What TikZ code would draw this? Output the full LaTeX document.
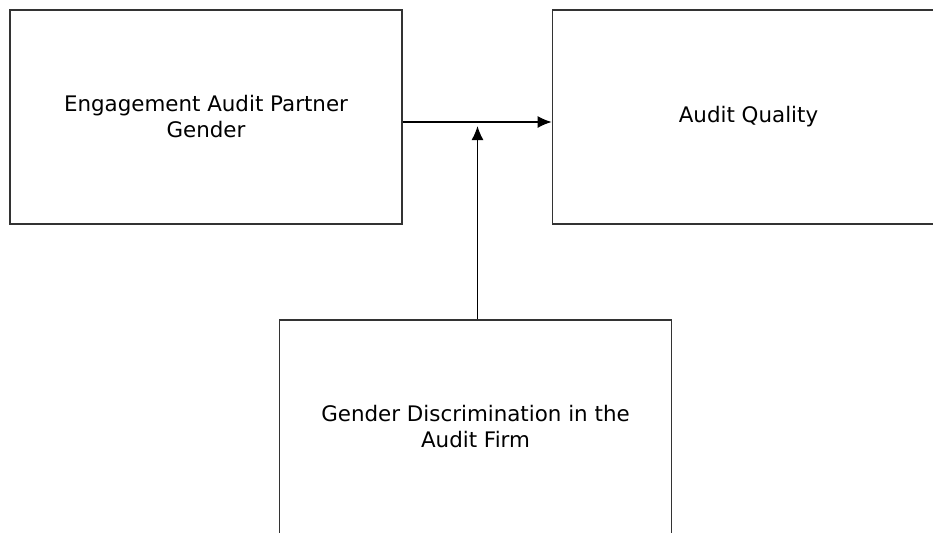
\documentclass[tikz,border=0pt]{standalone}
\usepackage{fontspec}
\setmainfont{DejaVu Sans}
\usetikzlibrary{arrows,arrows.meta}
\begin{document}
\begin{tikzpicture}[x=0.5pt,y=-0.5pt]
\tikzset{box/.style = {shape=rectangle,draw=black!80,line width=0.9pt,minimum width=196pt,minimum height=107pt,align=center,font=\fontsize{10.7}{13}\selectfont}}
\tikzset{edge/.style = {->,> = {Latex[length=7pt,width=6pt]},line width=0.65pt}}
\useasboundingbox (0,0) rectangle (933,532);
\clip (0,0) rectangle (933,532);
% boxes
\node[box] (eap) at (206,117) {Engagement Audit Partner\\Gender};
\node[box] (aq) at (748.5,117) {Audit Quality};
\node[box] (gd) at (475.5,427) {Gender Discrimination in the\\Audit Firm};
\coordinate (m) at (477.5,126);
%edges
\draw[edge] ([yshift=-2.5pt]eap.east) to ([yshift=-2.5pt]aq.west);
\draw[edge] ([xshift=1pt]gd.north) to (m);
\end{tikzpicture}
\end{document}
